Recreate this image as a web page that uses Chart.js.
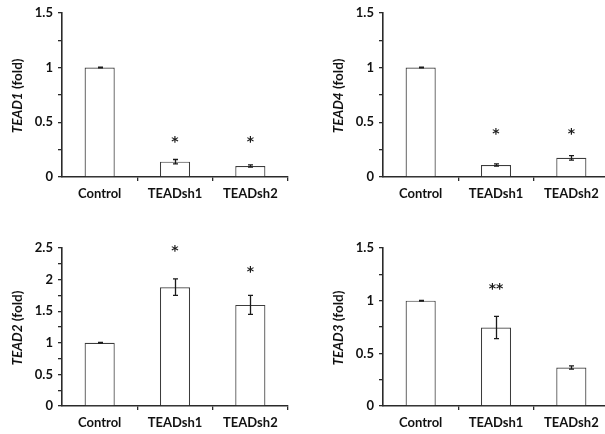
<!DOCTYPE html>
<html><head><meta charset="utf-8">
<script src="https://cdn.jsdelivr.net/npm/chart.js@4.4.1/dist/chart.umd.min.js"></script>
<style>
html,body{margin:0;padding:0;background:#fff;overflow:hidden;width:605px;height:434px;position:relative;}
canvas{position:absolute;display:block;}
</style></head><body>
<canvas id="c1" width="300" height="205" style="left:0;top:0"></canvas>
<canvas id="c2" width="312" height="205" style="left:300px;top:0"></canvas>
<canvas id="c3" width="300" height="224" style="left:0;top:210px"></canvas>
<canvas id="c4" width="312" height="224" style="left:300px;top:210px"></canvas>
<script>
// ---- data ----
const categories = ['Control', 'TEADsh1', 'TEADsh2'];

const tead1Values = [1.00, 0.14, 0.10];
const tead1Errors = [0.003, 0.02, 0.01];
const tead1Stars = ['', '*', '*'];
const tead1StarLevels = [null, 0.34, 0.34];

const tead4Values = [1.00, 0.11, 0.175];
const tead4Errors = [0.003, 0.01, 0.02];
const tead4Stars = ['', '*', '*'];
const tead4StarLevels = [null, 0.42, 0.42];

const tead2Values = [1.00, 1.88, 1.60];
const tead2Errors = [0.005, 0.13, 0.15];
const tead2Stars = ['', '*', '*'];
const tead2StarLevels = [null, 2.50, 2.16];

const tead3Values = [1.00, 0.745, 0.365];
const tead3Errors = [0.003, 0.105, 0.015];
const tead3Stars = ['', '**', ''];
const tead3StarLevels = [null, 1.13, null];

const yMaxes = { tead1: 1.5, tead4: 1.5, tead2: 2.5, tead3: 1.5 };
const majorStep = 0.5;
const minorStep = 0.25;

// ---- style ----
const FONT = 'Lato, "Open Sans", sans-serif';
const STAR_FONT = 'bold 14px "DejaVu Sans", sans-serif';
const AXIS = '#2a2a2a';
const BAR_EDGE = '#3c3c3c';

function fmt(v) { return (Math.round(v * 100) / 100).toString(); }

function makePanel(id, gene, values, errors, stars, starLevels, yMax, area) {
  const cv = document.getElementById(id);
  const W = cv.width, H = cv.height;
  const extras = {
    id: 'extras_' + id,
    afterDatasetsDraw(chart) {
      const ctx = chart.ctx;
      const ys = chart.scales.y;
      const meta = chart.getDatasetMeta(0);
      ctx.save();
      ctx.strokeStyle = '#1a1a1a';
      ctx.lineWidth = 1.3;
      meta.data.forEach((bar, i) => {
        const x = Math.round(bar.x) + 0.5;
        const top = ys.getPixelForValue(values[i] + errors[i]);
        const bot = ys.getPixelForValue(values[i] - errors[i]);
        ctx.beginPath();
        ctx.moveTo(x, top); ctx.lineTo(x, bot);
        ctx.moveTo(x - 2.5, top); ctx.lineTo(x + 2.5, top);
        ctx.moveTo(x - 2.5, bot); ctx.lineTo(x + 2.5, bot);
        ctx.stroke();
        if (stars[i] && starLevels[i] != null) {
          ctx.fillStyle = '#1a1a1a';
          ctx.font = STAR_FONT;
          ctx.textAlign = 'center';
          ctx.textBaseline = 'alphabetic';
          const m = ctx.measureText(stars[i]);
          const yc = ys.getPixelForValue(starLevels[i]);
          const base = yc + (m.actualBoundingBoxAscent - m.actualBoundingBoxDescent) / 2;
          ctx.fillText(stars[i], bar.x, base);
        }
      });
      ctx.restore();
    },
    afterDraw(chart) {
      const ctx = chart.ctx;
      const ca = chart.chartArea;
      ctx.save();
      ctx.fillStyle = '#111';
      const f1 = 'italic bold 13.5px ' + FONT;
      const f2 = 'bold 13.5px ' + FONT;
      const t1 = gene, t2 = ' (fold)';
      ctx.font = f1; const w1 = ctx.measureText(t1).width;
      ctx.font = f2; const w2 = ctx.measureText(t2).width;
      ctx.translate(ca.left - 44, (ca.top + ca.bottom) / 2 + 1);
      ctx.rotate(-Math.PI / 2);
      ctx.textBaseline = 'middle';
      ctx.textAlign = 'left';
      const start = -(w1 + w2) / 2;
      ctx.font = f1; ctx.fillText(t1, start, 0);
      ctx.font = f2; ctx.fillText(t2, start + w1, 0);
      ctx.restore();
    }
  };
  return new Chart(cv, {
    type: 'bar',
    data: {
      labels: categories,
      datasets: [{
        data: values,
        backgroundColor: '#ffffff',
        borderColor: BAR_EDGE,
        borderWidth: 1.2,
        barPercentage: 0.4,
        categoryPercentage: 1.0
      }]
    },
    options: {
      responsive: false,
      animation: false,
      devicePixelRatio: 1,
      layout: { padding: { left: 0, top: area.top, right: W - area.right, bottom: 0 } },
      plugins: { legend: { display: false }, tooltip: { enabled: false }, title: { display: false } },
      scales: {
        x: {
          offset: true,
          afterFit: s => { s.height = H - area.bottom; },
          grid: {
            offset: true, drawOnChartArea: false, drawTicks: true, tickLength: 4,
            color: c => (c.index === 0 ? 'rgba(0,0,0,0)' : AXIS), lineWidth: 1.3
          },
          border: { display: true, color: AXIS, width: 1.6 },
          ticks: { color: '#111', font: { family: FONT, size: 13, weight: 'bold' }, padding: 5, maxRotation: 0, autoSkip: false }
        },
        y: {
          min: 0, max: yMax,
          afterFit: s => { s.width = area.left; },
          grid: { drawOnChartArea: false, drawTicks: true, tickLength: 4, color: AXIS, lineWidth: 1.3 },
          border: { display: true, color: AXIS, width: 1.6 },
          ticks: {
            stepSize: minorStep, autoSkip: false, padding: 5, color: '#111',
            font: { family: FONT, size: 13, weight: 'bold' },
            callback: v => (Math.abs(v / majorStep - Math.round(v / majorStep)) < 1e-9 ? fmt(v) : '')
          }
        }
      }
    },
    plugins: [extras]
  });
}

makePanel('c1', 'TEAD1', tead1Values, tead1Errors, tead1Stars, tead1StarLevels, yMaxes.tead1,
  { left: 62, right: 288, top: 11, bottom: 177 });
makePanel('c2', 'TEAD4', tead4Values, tead4Errors, tead4Stars, tead4StarLevels, yMaxes.tead4,
  { left: 83, right: 309, top: 11, bottom: 177 });
makePanel('c3', 'TEAD2', tead2Values, tead2Errors, tead2Stars, tead2StarLevels, yMaxes.tead2,
  { left: 62, right: 288, top: 38, bottom: 196 });
makePanel('c4', 'TEAD3', tead3Values, tead3Errors, tead3Stars, tead3StarLevels, yMaxes.tead3,
  { left: 83, right: 309, top: 38, bottom: 196 });
</script>
</body></html>
